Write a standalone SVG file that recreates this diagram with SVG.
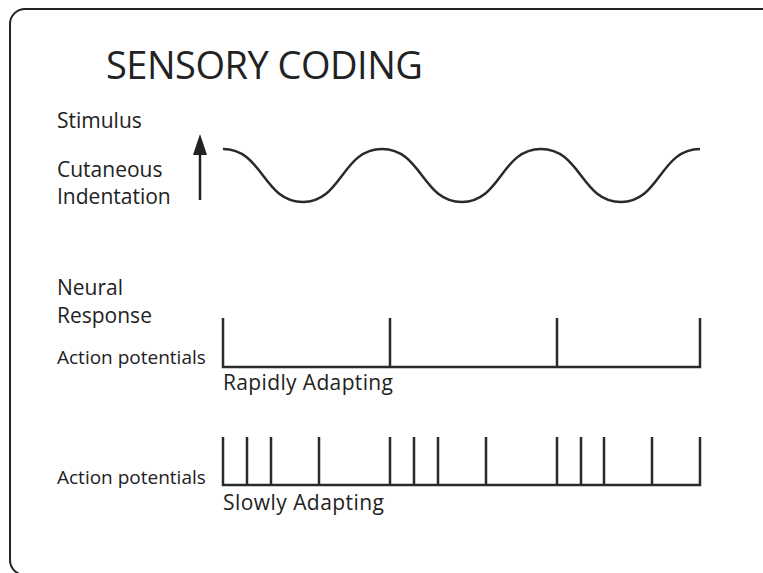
<svg xmlns="http://www.w3.org/2000/svg" width="763" height="573" viewBox="0 0 763 573">
<style>
text{font-family:"Open Sans","Noto Sans",sans-serif;fill:#222}
.lbl{font-size:21px}
.sm{font-size:19px}
.ln{fill:none;stroke:#2a2a2a;stroke-width:2.5;stroke-linecap:butt}
</style>
<defs>
<marker id="ah" viewBox="0 0 21 14" refX="0" refY="7" markerWidth="21" markerHeight="14" markerUnits="userSpaceOnUse" orient="auto">
<path d="M0,0 L21,7 L0,14 Z" fill="#222"/>
</marker>
</defs>
<rect width="763" height="573" fill="#fff"/>
<rect x="10" y="9" width="800" height="566" rx="15" fill="none" stroke="#222" stroke-width="2"/>
<g id="title"><text x="106" y="79" font-size="38" textLength="317">SENSORY CODING</text></g>
<g id="stimulus">
<text class="lbl" x="57" y="128">Stimulus</text>
<text class="lbl" x="57" y="177">Cutaneous</text>
<text class="lbl" x="57" y="204">Indentation</text>
</g>
<g id="wave">
<path class="ln" d="M223,149 C263,149 263,202 303,202 C342,202 342,149 382,149 C422,149 422,202 462,202 C501,202 501,149 541,149 C581,149 581,202 621,202 C660,202 660,149 700,149"/>
</g>
<g id="neural">
<text class="lbl" x="57" y="295">Neural</text>
<text class="lbl" x="57" y="323">Response</text>
</g>
<g id="rapid">
<text class="sm" x="57" y="364">Action potentials</text>
<path class="ln" d="M223,318 V367 H700 V318 M390,318 V367 M557,318 V367"/>
<text class="lbl" x="223" y="390" textLength="170">Rapidly Adapting</text>
</g>
<g id="slow">
<text class="sm" x="57" y="484">Action potentials</text>
<path class="ln" d="M223,437 V485 H700 V437 M247,437 V485 M271,437 V485 M319,437 V485 M390,437 V485 M414,437 V485 M438,437 V485 M486,437 V485 M557,437 V485 M581,437 V485 M604,437 V485 M652,437 V485"/>
<text class="lbl" x="223" y="510" textLength="161">Slowly Adapting</text>
</g>
<g id="connectors">
<line x1="200" y1="200" x2="200" y2="155" stroke="#222" stroke-width="2.5" marker-end="url(#ah)"/>
</g>
</svg>
